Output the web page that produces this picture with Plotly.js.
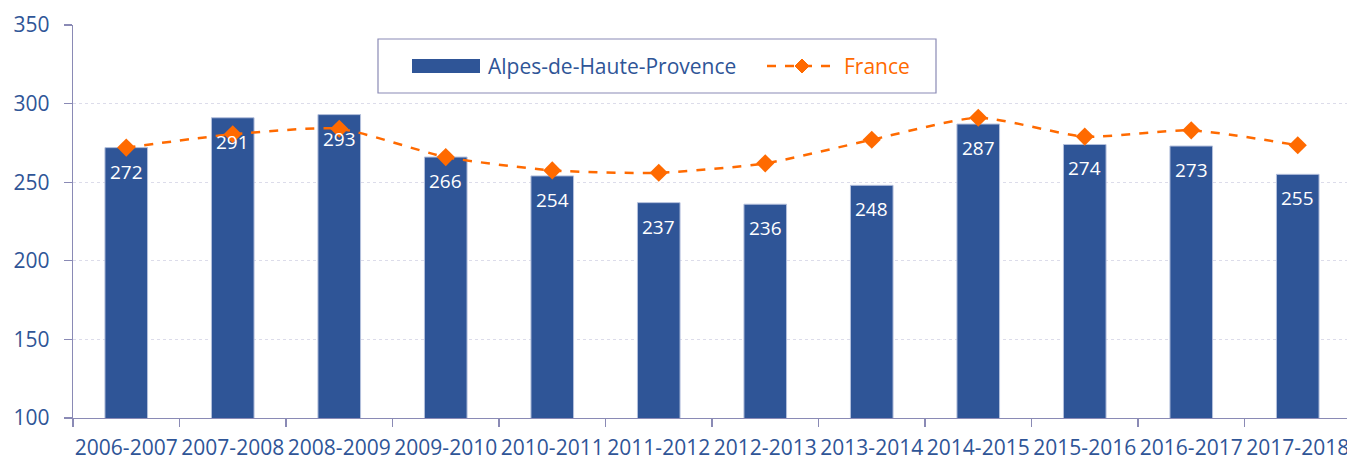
<!DOCTYPE html>
<html><head><meta charset="utf-8">
<script src="https://cdn.plot.ly/plotly-3.0.1.min.js"></script>
<style>html,body{margin:0;padding:0;background:#fff;overflow:hidden}</style>
</head><body><div id="chart"></div>
<script>
const categories = ["2006-2007","2007-2008","2008-2009","2009-2010","2010-2011","2011-2012","2012-2013","2013-2014","2014-2015","2015-2016","2016-2017","2017-2018"];
const alpesValues = [272,291,293,266,254,237,236,248,287,274,273,255];
const franceValues = [272,280.5,284,266,257.5,256,262,277,291,279,283,273.5];
const yTicks = [100,150,200,250,300,350];
const seriesNames = ["Alpes-de-Haute-Provence","France"];

const W = 1351, H = 457, ML = 73, MR = 0, MT = 25, MB = 39;
const blue = '#2F5597', orange = '#FF6A00', axisCol = '#8A8AB5';
const pw = W - ML - MR, ph = H - MT - MB;
const px = x => (x - ML) / pw;
const py = y => (H - MB - y) / ph;

const traces = [
  {type:'bar', name:seriesNames[0], x:categories, y:alpesValues,
   marker:{color:blue, line:{color:'#B4C0DC', width:1}}, hoverinfo:'x+y', showlegend:false},
  {type:'scatter', mode:'lines+markers', name:seriesNames[1], x:categories, y:franceValues,
   line:{color:orange, width:2.5, dash:'dash', shape:'spline', smoothing:0.6},
   marker:{symbol:'diamond', size:14, color:orange}, cliponaxis:false, showlegend:false}
];

const annotations = categories.map((c,i)=>({
  x:c, y:alpesValues[i], xref:'x', yref:'y', text:String(alpesValues[i]),
  showarrow:false, yanchor:'middle', yshift:-24,
  font:{family:'Open Sans', size:19, color:'#FFFFFF'}
}));

// custom legend
annotations.push({xref:'paper', yref:'paper', x:px(486), y:py(66), xanchor:'left', yanchor:'middle',
  text:seriesNames[0], showarrow:false, font:{family:'Open Sans', size:21, color:blue}});
annotations.push({xref:'paper', yref:'paper', x:px(842), y:py(66), xanchor:'left', yanchor:'middle',
  text:seriesNames[1], showarrow:false, font:{family:'Open Sans', size:21, color:orange}});

const dX = 7/pw, dY = 7/ph, cx = px(802), cy = py(66);
const shapes = [
  {type:'rect', xref:'paper', yref:'paper', x0:px(378), x1:px(936), y0:py(93), y1:py(39),
   line:{color:axisCol, width:1.2}, fillcolor:'#FFFFFF', layer:'above'},
  {type:'rect', xref:'paper', yref:'paper', x0:px(412), x1:px(480), y0:py(73), y1:py(59),
   line:{width:0}, fillcolor:blue, layer:'above'},
  {type:'line', xref:'paper', yref:'paper', x0:px(767), x1:px(837), y0:cy, y1:cy,
   line:{color:orange, width:2.5, dash:'dash'}, layer:'above'},
  {type:'path', xref:'paper', yref:'paper',
   path:`M ${cx-dX} ${cy} L ${cx} ${cy+dY} L ${cx+dX} ${cy} L ${cx} ${cy-dY} Z`,
   fillcolor:orange, line:{color:orange, width:1}, layer:'above'}
];

const layout = {
  width:W, height:H, margin:{l:ML, r:MR, t:MT, b:MB, pad:0},
  paper_bgcolor:'#fff', plot_bgcolor:'#fff', showlegend:false, bargap:0.6,
  font:{family:'Open Sans', color:blue},
  xaxis:{type:'category', showline:true, linecolor:axisCol, linewidth:1.3,
    ticks:'outside', tickson:'boundaries', ticklen:8, tickcolor:axisCol, tickwidth:1.3,
    ticklabelstandoff:10,
    showgrid:false, tickfont:{family:'Open Sans', size:21, color:blue}, tickangle:0,
    automargin:false, range:[-0.5,11.5]},
  yaxis:{range:[100,350], tickvals:yTicks, showline:true, linecolor:axisCol, linewidth:1.3,
    ticks:'outside', ticklen:8, tickcolor:axisCol, tickwidth:1.3, ticklabelstandoff:10,
    showgrid:true, gridcolor:'#DCDCEA', griddash:'dot', gridwidth:1, zeroline:false,
    tickfont:{family:'Open Sans', size:21, color:blue}, automargin:false},
  annotations:annotations, shapes:shapes
};
Plotly.newPlot('chart', traces, layout, {displayModeBar:false, staticPlot:true});
</script></body></html>
